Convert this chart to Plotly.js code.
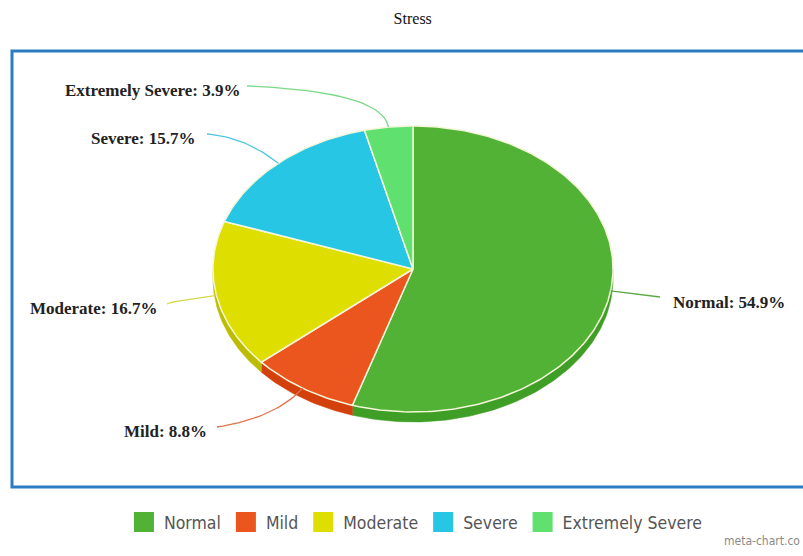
<!DOCTYPE html>
<html><head><meta charset="utf-8">
<script src="https://cdn.plot.ly/plotly-3.0.1.min.js"></script>
<style>html,body{margin:0;padding:0;background:#fff}</style>
</head><body><div id="chart" style="width:803px;height:556px"></div>
<script>
// ---- data ----
const categories = ['Normal', 'Mild', 'Moderate', 'Severe', 'Extremely Severe'];
const values = [54.9, 8.8, 16.7, 15.7, 3.9];
const topColors = ['#52b236', '#ea561e', '#dedf00', '#27c6e5', '#5fe06f'];
const sideColors = ['#3f9e25', '#d4400c', '#bcbd00', '#1fa8c4', '#4cc35a'];
const leaderColors = ['#5aa845', '#e0734a', '#d6d74a', '#4cc6dc', '#7bd886'];

// ---- layout constants (pixel geometry) ----
const W = 803, H = 556;
const geo = {cx: 413, cy: 269, rx: 200, ry: 143, depth: 10};
const leaderEnds = [[660, 297], [217, 427], [167, 304], [207, 134], [247, 86]];
const labelPos = [[671, 302, 'left'], [209, 431, 'right'], [159, 308, 'right'], [198, 138, 'right'], [242, 90, 'right']];

function pt(deg, k, dy) {
  const r = deg * Math.PI / 180;
  return [geo.cx + geo.rx * k * Math.sin(r), geo.cy - geo.ry * k * Math.cos(r) + (dy || 0)];
}
function arc(a, b, dy) {
  const pts = [];
  const n = Math.max(2, Math.ceil(Math.abs(b - a)));
  for (let i = 0; i <= n; i++) pts.push(pt(a + (b - a) * i / n, 1, dy));
  return pts;
}

const total = values.reduce((s, v) => s + v, 0);
const starts = [], ends = [];
let acc = 0;
values.forEach(v => { starts.push(acc / total * 360); acc += v; ends.push(acc / total * 360); });

const traces = [];
// sides (front half only)
values.forEach((v, i) => {
  const s = Math.max(starts[i], 90), e = Math.min(ends[i], 270);
  if (s < e) {
    const pts = arc(s, e, 0).concat(arc(e, s, geo.depth));
    pts.push(pts[0]);
    traces.push({type: 'scatter', mode: 'lines', x: pts.map(p => p[0]), y: pts.map(p => p[1]),
      fill: 'toself', fillcolor: sideColors[i], line: {color: sideColors[i], width: 0.5},
      hoverinfo: 'skip', showlegend: false});
  }
});
// top faces
values.forEach((v, i) => {
  const pts = [[geo.cx, geo.cy]].concat(arc(starts[i], ends[i], 0));
  pts.push([geo.cx, geo.cy]);
  traces.push({type: 'scatter', mode: 'lines', x: pts.map(p => p[0]), y: pts.map(p => p[1]),
    fill: 'toself', fillcolor: topColors[i], line: {color: '#f4f6d8', width: 1.5},
    name: categories[i], text: categories[i] + ': ' + v + '%', hoverinfo: 'text', showlegend: false});
});
// leader lines (quadratic bezier from slice mid-angle)
values.forEach((v, i) => {
  const mid = (starts[i] + ends[i]) / 2;
  const p0 = pt(mid, 1), p1 = pt(mid, 1.25), p2 = leaderEnds[i];
  const xs = [], ys = [];
  for (let t = 0; t <= 1.0001; t += 0.05) {
    const a = (1 - t) * (1 - t), b = 2 * (1 - t) * t, c = t * t;
    xs.push(a * p0[0] + b * p1[0] + c * p2[0]);
    ys.push(a * p0[1] + b * p1[1] + c * p2[1]);
  }
  traces.push({type: 'scatter', mode: 'lines', x: xs, y: ys, line: {color: leaderColors[i], width: 1.3},
    hoverinfo: 'skip', showlegend: false});
});
// legend entries
categories.forEach((c, i) => {
  traces.push({type: 'scatter', mode: 'markers', x: [null], y: [null], name: c,
    marker: {symbol: 'square', size: 16, color: topColors[i], line: {color: topColors[i], width: 4}},
    showlegend: true, hoverinfo: 'skip'});
});

const annotations = values.map((v, i) => ({
  x: labelPos[i][0], y: labelPos[i][1], xref: 'x', yref: 'y',
  xanchor: labelPos[i][2], yanchor: 'middle', showarrow: false,
  text: '<b>' + categories[i] + ': ' + v + '%</b>',
  font: {family: 'Liberation Serif', size: 17, color: '#222'}
}));
annotations.push({x: 802, y: 541, xref: 'x', yref: 'y', xanchor: 'right', yanchor: 'middle', showarrow: false,
  text: 'meta-chart.co', font: {family: 'DejaVu Sans Condensed', size: 12, color: '#8a8a8a'}});

const layout = {
  width: W, height: H,
  margin: {l: 0, r: 0, t: 0, b: 0},
  paper_bgcolor: '#fff', plot_bgcolor: '#fff',
  title: {text: 'Stress', x: 0.514, xanchor: 'center', y: 1 - 18 / H, yanchor: 'middle',
    font: {family: 'Liberation Serif', size: 16, color: '#111'}},
  xaxis: {range: [0, W], visible: false, fixedrange: true},
  yaxis: {range: [H, 0], visible: false, fixedrange: true},
  shapes: [{type: 'rect', xref: 'x', yref: 'y', x0: 12, x1: 812, y0: 51, y1: 487,
    line: {color: '#2b7cc1', width: 3}, layer: 'below'}],
  annotations: annotations,
  showlegend: true,
  legend: {orientation: 'h', x: 0.518, xanchor: 'center', y: 1 - 522 / H, yanchor: 'middle',
    font: {family: 'DejaVu Sans Condensed', size: 17.5, color: '#555'}, itemclick: false, itemdoubleclick: false,
    traceorder: 'normal', itemwidth: 30, bgcolor: 'rgba(0,0,0,0)'}
};

Plotly.newPlot('chart', traces, layout, {displayModeBar: false, staticPlot: true});
</script>
</body></html>
